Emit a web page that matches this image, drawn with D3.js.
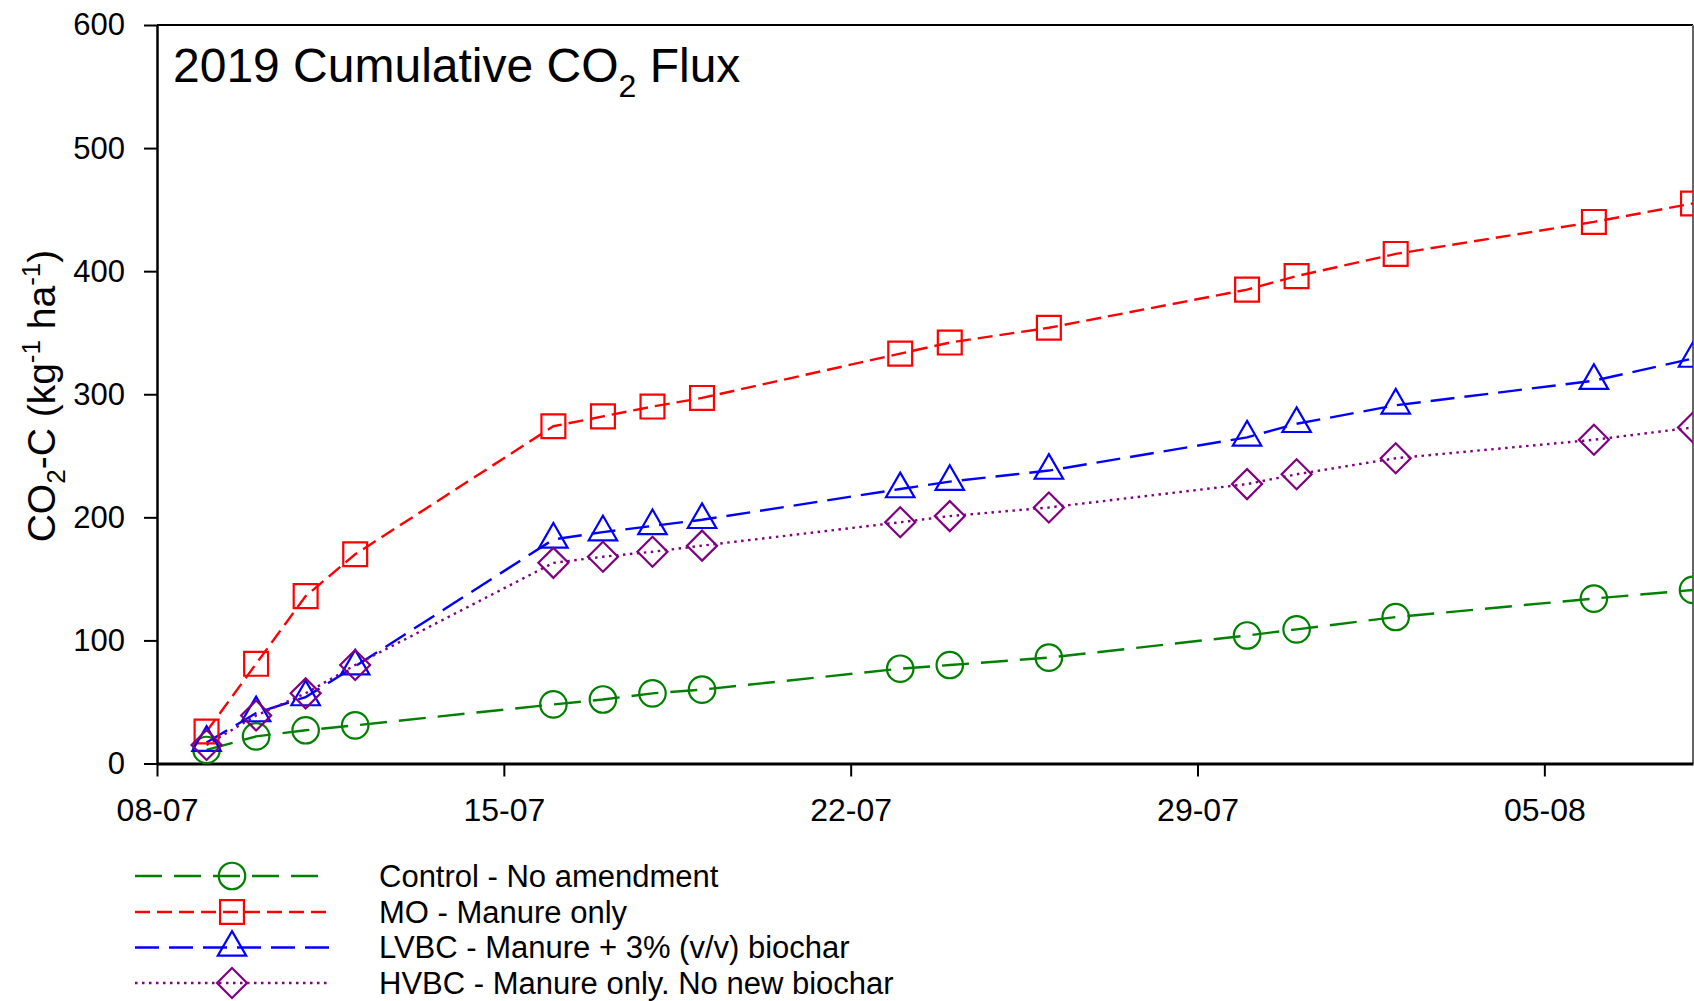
<!DOCTYPE html>
<html>
<head>
<meta charset="utf-8">
<script src="https://d3js.org/d3.v7.min.js"></script>
<style>
  html, body { margin: 0; padding: 0; background: #fff; }
  svg { display: block; font-family: "Liberation Sans", Arial, sans-serif; }
</style>
</head>
<body>
<div id="chart"></div>
<script>
// sampling dates (2019) and cumulative CO2-C per treatment
var dates = ["2019-07-09", "2019-07-10", "2019-07-11", "2019-07-12", "2019-07-16", "2019-07-17",
             "2019-07-18", "2019-07-19", "2019-07-23", "2019-07-24", "2019-07-26", "2019-07-30",
             "2019-07-31", "2019-08-02", "2019-08-06", "2019-08-08"];
var control = [11, 22, 27, 31, 48, 52, 57, 60, 77, 80, 86, 104, 109, 119, 134, 141];
var mo      = [26, 81, 136, 170, 274, 282, 290, 297, 333, 342, 354, 385, 396, 414, 440, 455];
var lvbc    = [17, 41, 54, 79, 182, 188, 193, 198, 223, 229, 238, 265, 276, 291, 311, 329];
var hvbc    = [15, 39, 57, 80, 163, 168, 172, 177, 196, 201, 208, 227, 235, 248, 263, 273];

var seriesLabels = ["Control - No amendment", "MO - Manure only",
                    "LVBC - Manure + 3% (v/v) biochar", "HVBC - Manure only. No new biochar"];
var yTicks = [0, 100, 200, 300, 400, 500, 600];
var xTicks = ["2019-07-08", "2019-07-15", "2019-07-22", "2019-07-29", "2019-08-05"];
var xDomain = ["2019-07-08", "2019-08-08"];

var W = 1694, H = 1001;
var plot = {left: 157, right: 1693, top: 25, bottom: 763.5};
var font = '"Liberation Sans", Arial, sans-serif';

var parseDate = d3.timeParse("%Y-%m-%d");

var x = d3.scaleTime()
    .domain(xDomain.map(parseDate))
    .range([plot.left, plot.right]);
var y = d3.scaleLinear()
    .domain([0, 600])
    .range([plot.bottom, plot.top]);

var series = [
  {name: seriesLabels[0], values: control, color: "#008000", dash: "27,12", symbol: "circle"},
  {name: seriesLabels[1], values: mo,      color: "#ff0000", dash: "15,7",  symbol: "square"},
  {name: seriesLabels[2], values: lvbc,    color: "#0000ff", dash: "24,10", symbol: "triangle"},
  {name: seriesLabels[3], values: hvbc,    color: "#800080", dash: "2.5,4.5", symbol: "diamond"}
];

// marker shapes
var symbolOf = {
  circle:   d3.symbol().type(d3.symbolCircle).size(550),
  square:   d3.symbol().type(d3.symbolSquare).size(570),
  triangle: d3.symbol().type(d3.symbolTriangle).size(350),
  diamond:  d3.symbol().type(d3.symbolSquare).size(450)
};
var markerPath = function(sel, s){
  sel.attr("d", symbolOf[s.symbol]())
    .attr("fill", "none")
    .attr("stroke", s.color)
    .attr("stroke-width", 2.2);
};

var svg = d3.select("#chart").append("svg")
    .attr("width", W)
    .attr("height", H);

svg.append("clipPath").attr("id", "plotClip")
  .append("rect")
    .attr("x", plot.left)
    .attr("y", 0)
    .attr("width", plot.right - plot.left)
    .attr("height", plot.bottom + 20);

// frame (top + right)
svg.append("line")
    .attr("x1", plot.left).attr("x2", plot.right)
    .attr("y1", plot.top).attr("y2", plot.top)
    .attr("stroke", "#000").attr("stroke-width", 2);
svg.append("line")
    .attr("x1", plot.right).attr("x2", plot.right)
    .attr("y1", plot.top).attr("y2", plot.bottom)
    .attr("stroke", "#666").attr("stroke-width", 2);

// y axis
var yAxis = svg.append("g")
    .attr("transform", "translate(" + plot.left + ",0)")
    .call(d3.axisLeft(y).tickValues(yTicks).tickSize(13).tickSizeOuter(0).tickPadding(19));
yAxis.select(".domain").attr("stroke-width", 2.5);
yAxis.selectAll(".tick line").attr("stroke-width", 2);
yAxis.selectAll(".tick text")
    .style("font-family", font)
    .style("font-size", "31px")
    .attr("fill", "#000");

// x axis
var xAxis = svg.append("g")
    .attr("transform", "translate(0," + plot.bottom + ")")
    .call(d3.axisBottom(x).tickValues(xTicks.map(parseDate)).tickFormat(d3.timeFormat("%d-%m"))
          .tickSize(13).tickSizeOuter(0).tickPadding(22));
xAxis.select(".domain").attr("stroke-width", 3);
xAxis.selectAll(".tick line").attr("stroke-width", 2);
xAxis.selectAll(".tick text")
    .style("font-family", font)
    .style("font-size", "32px")
    .attr("fill", "#000");

// lines + markers
var line = d3.line()
    .x(function(d, i){ return x(parseDate(dates[i])); })
    .y(function(d){ return y(d); });

var plotG = svg.append("g").attr("clip-path", "url(#plotClip)");

series.forEach(function(s){
  plotG.append("path")
      .attr("d", line(s.values))
      .attr("fill", "none")
      .attr("stroke", s.color)
      .attr("stroke-width", 2.4)
      .attr("stroke-dasharray", s.dash);
});

series.forEach(function(s){
  plotG.selectAll(".m-" + s.symbol)
      .data(s.values)
      .enter().append("path")
      .attr("class", "m-" + s.symbol)
      .attr("transform", function(d, i){
        var t = "translate(" + x(parseDate(dates[i])) + "," + y(d) + ")";
        return s.symbol == "diamond" ? t + " rotate(45)" : t;
      })
      .call(markerPath, s);
});

// title
var title = svg.append("text")
    .attr("x", 173)
    .attr("y", 82)
    .style("font-family", font)
    .style("font-size", "48px")
    .attr("fill", "#000");
title.append("tspan").text("2019 Cumulative CO");
title.append("tspan").attr("dy", 15).style("font-size", "32px").text("2");
title.append("tspan").attr("dy", -15).text(" Flux");

// y axis label
var yLab = svg.append("text")
    .attr("transform", "translate(55,396) rotate(-90)")
    .attr("text-anchor", "middle")
    .style("font-family", font)
    .style("font-size", "39px")
    .attr("fill", "#000");
yLab.append("tspan").text("CO");
yLab.append("tspan").attr("dy", 10).style("font-size", "26px").text("2");
yLab.append("tspan").attr("dy", -10).text("-C (kg");
yLab.append("tspan").attr("dy", -15).style("font-size", "26px").text("-1");
yLab.append("tspan").attr("dy", 15).text(" ha");
yLab.append("tspan").attr("dy", -15).style("font-size", "26px").text("-1");
yLab.append("tspan").attr("dy", 15).text(")");

// legend
var legendY = [876, 912, 947.5, 983];
var legend = svg.selectAll(".legendRow")
    .data(series)
    .enter().append("g")
    .attr("class", "legendRow")
    .attr("transform", function(d, i){ return "translate(0," + legendY[i] + ")"; });

legend.append("line")
    .attr("x1", 135).attr("x2", 330)
    .attr("y1", 0).attr("y2", 0)
    .attr("stroke", function(d){ return d.color; })
    .attr("stroke-width", 2.4)
    .attr("stroke-dasharray", function(d){ return d.dash; });

legend.each(function(s){
  d3.select(this).append("path")
      .attr("transform", "translate(232,0)" + (s.symbol == "diamond" ? " rotate(45)" : ""))
      .call(markerPath, s);
});

legend.append("text")
    .attr("x", 379)
    .attr("y", 0)
    .attr("dy", "0.35em")
    .style("font-family", font)
    .style("font-size", "31px")
    .attr("fill", "#000")
    .text(function(d){ return d.name; });
</script>
</body>
</html>
